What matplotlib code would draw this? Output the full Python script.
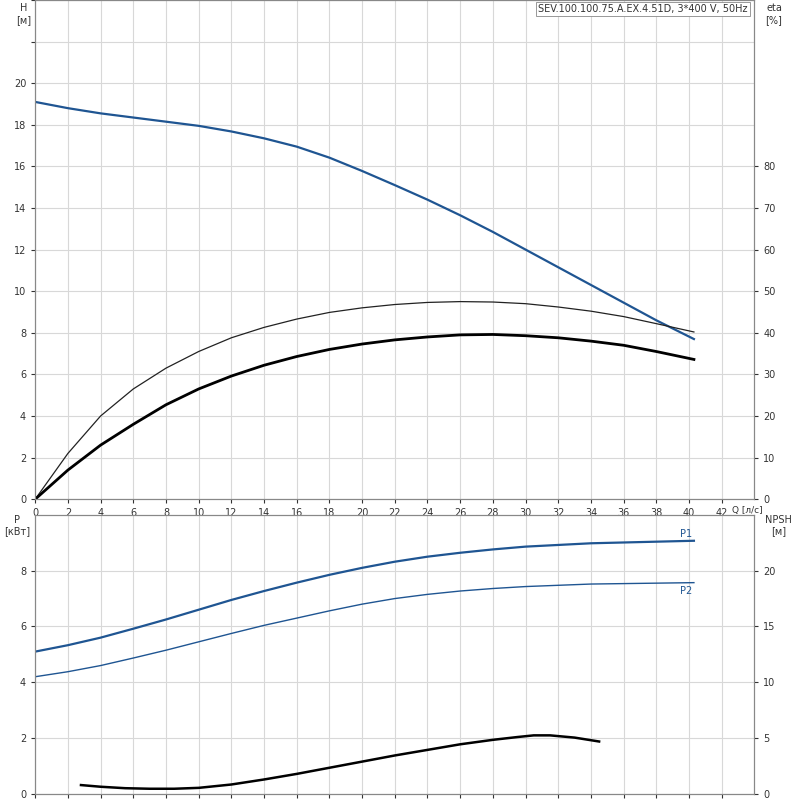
import matplotlib
matplotlib.use("Agg")
import matplotlib.pyplot as plt
import numpy as np

q_h = [0, 2, 4, 6, 8, 10, 12, 14, 16, 18, 20, 22, 24, 26, 28, 30, 32, 34, 36, 38, 40.3]
h = [19.1, 18.8, 18.55, 18.35, 18.15, 17.95, 17.68, 17.35, 16.95, 16.42, 15.78, 15.1, 14.4, 13.65, 12.85, 12.0, 11.15, 10.3, 9.45, 8.6, 7.7]
q_e = [0, 2, 4, 6, 8, 10, 12, 14, 16, 18, 20, 22, 24, 26, 28, 30, 32, 34, 36, 38, 40.3]
eta_thin = [0, 11, 20, 26.5, 31.5, 35.5, 38.8, 41.3, 43.3, 44.9, 46.0, 46.8, 47.3, 47.5, 47.4, 47.0, 46.2, 45.2, 43.9, 42.2, 40.2]
eta_thick = [0, 7, 13, 18, 22.7, 26.5, 29.6, 32.2, 34.3, 36.0, 37.3, 38.3, 39.0, 39.5, 39.6, 39.3, 38.8, 38.0, 37.0, 35.5, 33.6]
q_p = [0, 2, 4, 6, 8, 10, 12, 14, 16, 18, 20, 22, 24, 26, 28, 30, 34, 40.3]
p1 = [5.1, 5.33, 5.6, 5.92, 6.25, 6.6, 6.95, 7.27, 7.57, 7.85, 8.1, 8.32, 8.5, 8.64, 8.76, 8.86, 8.98, 9.07]
p2 = [4.2, 4.38, 4.6, 4.87, 5.15, 5.45, 5.75, 6.04, 6.3, 6.56, 6.8, 7.0, 7.15, 7.27, 7.36, 7.43, 7.52, 7.57]
q_n = [2.8, 4, 5.5, 7, 8.5, 10, 12, 14, 16, 18, 20, 22, 24, 26, 28, 29.5, 30.5, 31.5, 33, 34.5]
npsh = [0.8, 0.65, 0.52, 0.47, 0.47, 0.55, 0.85, 1.3, 1.8, 2.35, 2.9, 3.45, 3.95, 4.45, 4.85, 5.1, 5.25, 5.25, 5.05, 4.7]

blue = "#1f5592"
gridc = "#d8d8d8"
fig = plt.figure(figsize=(8, 8), dpi=100)
ax = fig.add_axes([0.044, 0.376, 0.899, 0.624])
ax.set_xlim(0, 44)
ax.set_ylim(0, 24)
ax.set_xticks(np.arange(0, 43, 2))
ax.set_yticks(np.arange(0, 25, 2))
ax.set_yticklabels([str(v) if v <= 20 else "" for v in range(0, 25, 2)])
ax.grid(True, color=gridc, lw=0.8)
ax.tick_params(labelsize=7, colors="#333333", length=3)
ax.plot(q_h, h, color=blue, lw=1.6)
ax2 = ax.twinx()
ax2.set_ylim(0, 120)
ax2.set_yticks(np.arange(0, 81, 10))
ax2.tick_params(labelsize=7, colors="#333333", length=3)
ax2.plot(q_e, eta_thin, color="#222222", lw=0.9)
ax2.plot(q_e, eta_thick, color="black", lw=2.0)
for a in (ax, ax2):
    for s in a.spines.values():
        s.set_color("#888888")
ax.text(-0.7, 23.85, "H\n[м]", fontsize=7, ha="center", va="top", color="#333333")
ax.text(45.2, 23.85, "eta\n[%]", fontsize=7, ha="center", va="top", color="#333333")
ax.text(43.6, 23.8, "SEV.100.100.75.A.EX.4.51D, 3*400 V, 50Hz", fontsize=7, ha="right", va="top",
        color="#333333", bbox=dict(fc="white", ec="#888888", lw=0.6, pad=1.5))
ax.text(42.6, -0.35, "Q [л/с]", fontsize=6.5, ha="left", va="top", color="#333333")

bx = fig.add_axes([0.044, 0.0075, 0.899, 0.349])
bx.set_xlim(0, 44)
bx.set_ylim(0, 10)
bx.set_xticks(np.arange(0, 43, 2))
bx.set_xticklabels([])
bx.set_yticks([0, 2, 4, 6, 8])
bx.grid(True, color=gridc, lw=0.8)
bx.tick_params(labelsize=7, colors="#333333", length=3)
bx.plot(q_p, p1, color=blue, lw=1.6)
bx.plot(q_p, p2, color=blue, lw=1.0)
bx.text(39.8, 9.15, "P1", fontsize=7, color=blue, ha="center", va="bottom")
bx.text(39.8, 7.45, "P2", fontsize=7, color=blue, ha="center", va="top")
bx2 = bx.twinx()
bx2.set_ylim(0, 25)
bx2.set_yticks([0, 5, 10, 15, 20])
bx2.tick_params(labelsize=7, colors="#333333", length=3)
bx2.plot(q_n, npsh, color="black", lw=1.8)
for a in (bx, bx2):
    for s in a.spines.values():
        s.set_color("#888888")
bx.text(-1.1, 10.0, "P\n[кВт]", fontsize=7, ha="center", va="top", color="#333333")
bx.text(45.5, 10.0, "NPSH\n[м]", fontsize=7, ha="center", va="top", color="#333333")
fig.savefig("out.png", dpi=100)
